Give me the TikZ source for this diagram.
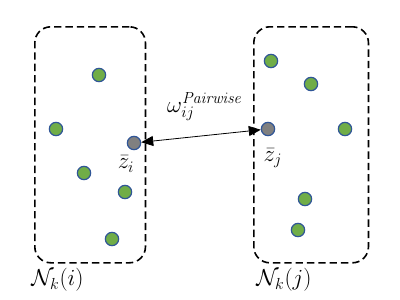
\documentclass[tikz,border=0pt]{standalone}
\usetikzlibrary{arrows.meta}
\newcommand{\mysmallmath}[1]{\mbox{\fontsize{13}{14}\selectfont$#1$}}
\begin{document}
\begin{tikzpicture}[x=0.75pt,y=-0.75pt,
  regionbox/.style={draw, line width=1.2pt, dash pattern=on 5.5pt off 3pt, rounded corners=12pt},
  pt/.style={circle, line width=0.9pt, minimum size=10pt, inner sep=0pt},
  ptg/.style={pt},
  lbl/.style={font=\fontsize{18}{20}\selectfont, inner sep=0pt}]
\useasboundingbox (0,0) rectangle (400,300);
\definecolor{ptgreen}{HTML}{70AD47}
\definecolor{ptblue}{HTML}{2F5597}
\tikzset{pt/.append style={fill=ptgreen, draw=ptblue}, ptg/.append style={fill=gray}}
\node[regionbox, minimum width=83pt, minimum height=177pt, anchor=north west] (Bi) at (34,26) {};
\node[regionbox, minimum width=86pt, minimum height=177pt, anchor=north west] (Bj) at (253,26) {};
% left points
\node[pt] (a1) at (99,75) {};
\node[pt] (a2) at (56,129) {};
\node[ptg] (zi) at (134,143) {};
\node[pt] (a3) at (84,173) {};
\node[pt] (a4) at (125,192) {};
\node[pt] (a5) at (112,239) {};
% right points
\node[pt] (b1) at (271,61) {};
\node[pt] (b2) at (311,84) {};
\node[ptg] (zj) at (268,129) {};
\node[pt] (b3) at (345,129) {};
\node[pt] (b4) at (305,199) {};
\node[pt] (b5) at (298,230) {};
\draw[{Triangle[length=9pt,width=7.5pt]}-{Triangle[length=9pt,width=7.5pt]}, line width=0.6pt] (zi) -- (zj);
\node[lbl] (w) at (205,107) {$\omega_{\mysmallmath{ij}}^{\mysmallmath{\mathit{Pairwise}}}$};
\node[lbl] (li) at (126,164) {$\bar{z}_i$};
\node[lbl] (lj) at (273,158) {$\bar{z}_j$};
\node[lbl, anchor=west] (ni) at (31,280) {$\mathcal{N}_k(i)$};
\node[lbl, anchor=west] (nj) at (256,280) {$\mathcal{N}_k(j)$};
\end{tikzpicture}
\end{document}
